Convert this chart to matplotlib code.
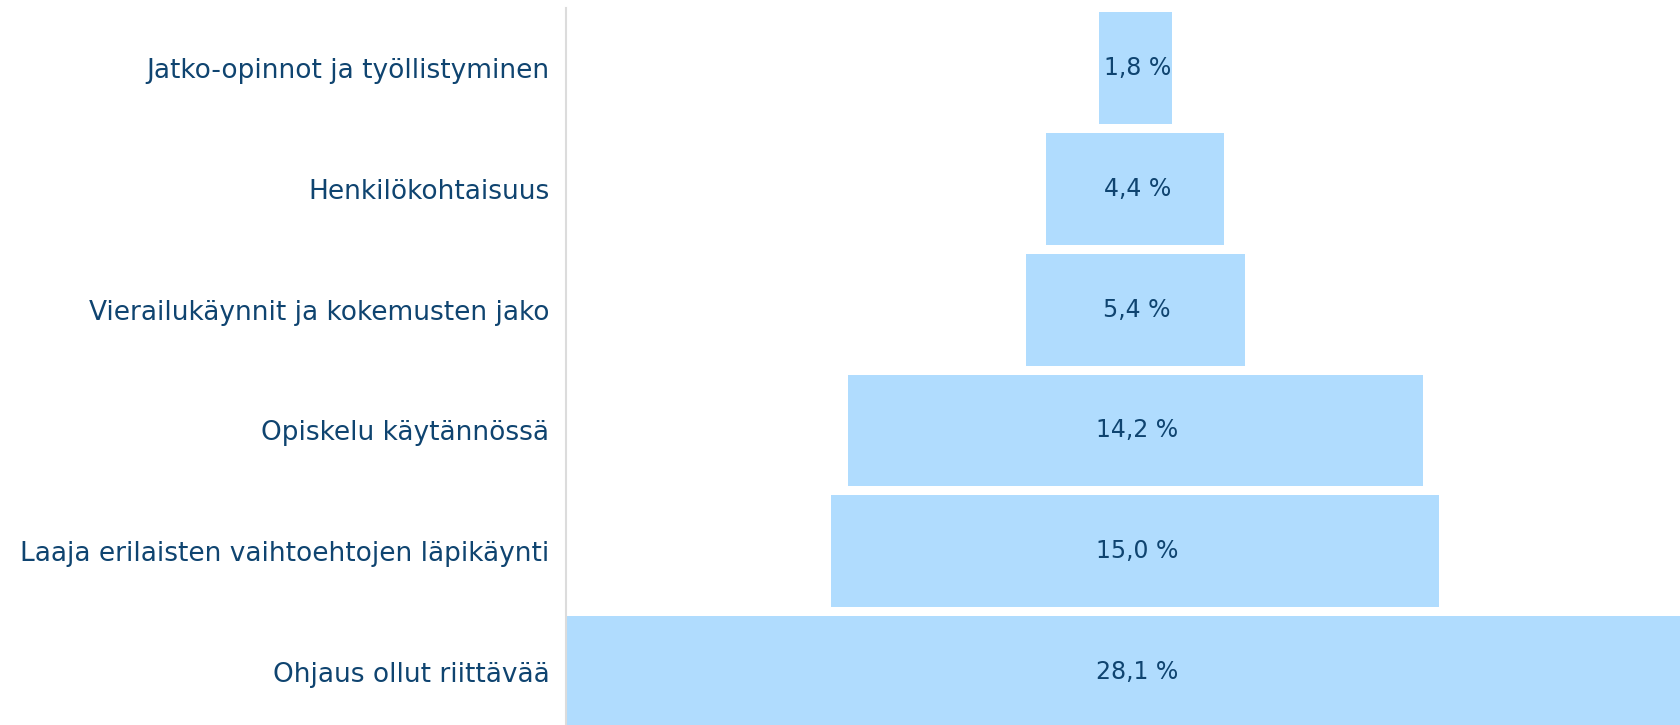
import matplotlib.pyplot as plt

plt.rcParams['font.family'] = ['DejaVu Sans']

categories = ['Jatko-opinnot ja työllistyminen', 'Henkilökohtaisuus',
              'Vierailukäynnit ja kokemusten jako', 'Opiskelu käytännössä',
              'Laaja erilaisten vaihtoehtojen läpikäynti', 'Ohjaus ollut riittävää']
values = [1.8, 4.4, 5.4, 14.2, 15.0, 28.1]
value_labels = ['1,8 %', '4,4 %', '5,4 %', '14,2 %', '15,0 %', '28,1 %']

bar_color = '#b0dcfe'
text_color = '#0f4470'

fig = plt.figure(figsize=(16.8, 7.25), dpi=100)
ax = fig.add_axes([566 / 1680, 0, 1 - 566 / 1680, 1 - 8 / 725])

ypos = list(range(len(categories)))
lefts = [-v / 2 for v in values]
ax.barh(ypos, values, left=lefts, height=0.927, color=bar_color, edgecolor='none')

for y, lab in zip(ypos, value_labels):
    ax.text(0.05, y, lab, ha='center', va='center', fontsize=17, color=text_color)

ax.set_xlim(-14.05, 13.45)
ax.set_ylim(5.44, -0.50)
ax.set_yticks(ypos)
ax.set_yticklabels(categories, fontsize=19, color=text_color)
ax.tick_params(axis='y', length=0, pad=12)
ax.set_xticks([])
for s in ['top', 'right', 'bottom']:
    ax.spines[s].set_visible(False)
ax.spines['left'].set_color('#dcdcdc')
ax.spines['left'].set_linewidth(1.5)

fig.savefig('out.png', dpi=100)
